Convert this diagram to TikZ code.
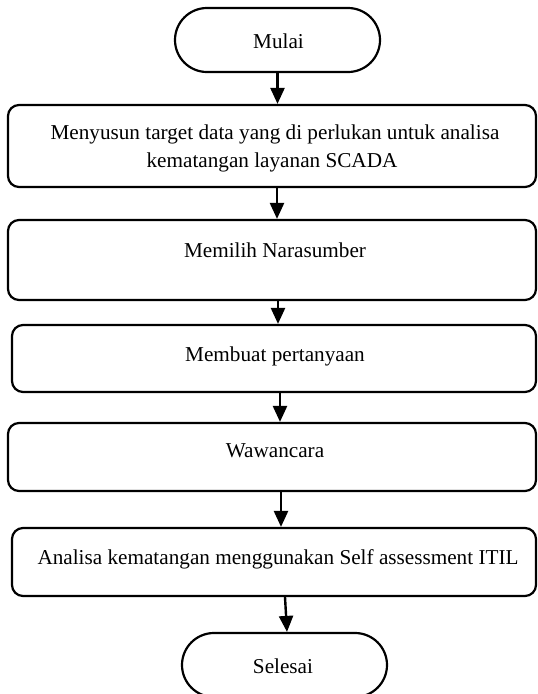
\documentclass[tikz,border=0pt]{standalone}
\usepackage{fontspec}
\setmainfont{Liberation Serif}
\usetikzlibrary{arrows.meta}

\begin{document}
\begin{tikzpicture}[x=1pt,y=-1pt,
  every node/.style={font=\fontsize{21.2}{28}\selectfont},
  procbox/.style={draw, line width=2.2pt, rounded corners=11pt, inner sep=0pt},
  termbox/.style={draw, line width=2.2pt, rounded corners=32pt, inner sep=0pt,
                  minimum width=205pt, minimum height=64pt},
  label/.style={anchor=base, inner sep=0pt, align=center},
  flow/.style={line width=2.4pt, -{Triangle[length=16pt,width=14pt]}}]
\useasboundingbox (0,0) rectangle (538,694);

% start and end terminators
\node[termbox] (mulai) at (277.5,40) {};
\node[label] (tmulai) at (278.5,48) {Mulai};

\node[termbox] (selesai) at (284.5,665) {};
\node[label] (tselesai) at (283,673) {Selesai};

% process steps
\node[procbox, minimum width=528pt, minimum height=82pt] (b1) at (272,146) {};
\node[label] (t1a) at (275,139) {Menyusun target data yang di perlukan untuk analisa};
\node[label] (t1b) at (272,167) {kematangan layanan SCADA};

\node[procbox, minimum width=528pt, minimum height=80pt] (b2) at (272,260) {};
\node[label] (t2) at (275,257) {Memilih Narasumber};

\node[procbox, minimum width=524pt, minimum height=67pt] (b3) at (274,358.5) {};
\node[label] (t3) at (275,361) {Membuat pertanyaan};

\node[procbox, minimum width=528pt, minimum height=68pt] (b4) at (272,457) {};
\node[label] (t4) at (275,457) {Wawancara};

\node[procbox, minimum width=524pt, minimum height=68pt] (b5) at (274,562) {};
\node[label] (t5) at (278,564) {Analisa kematangan menggunakan Self assessment ITIL};

% connectors
\draw[flow] (mulai.south) -- ([xshift=5.5pt]b1.north);
\draw[flow] ([xshift=5pt]b1.south) -- ([xshift=5pt]b2.north);
\draw[flow] ([xshift=6pt]b2.south) -- ([xshift=4pt]b3.north);
\draw[flow] ([xshift=6pt]b3.south) -- ([xshift=8pt]b4.north);
\draw[flow] ([xshift=9pt]b4.south) -- ([xshift=7pt]b5.north);
\draw[flow] ([xshift=11pt]b5.south) -- ([xshift=2.5pt]selesai.north);
\end{tikzpicture}
\end{document}
